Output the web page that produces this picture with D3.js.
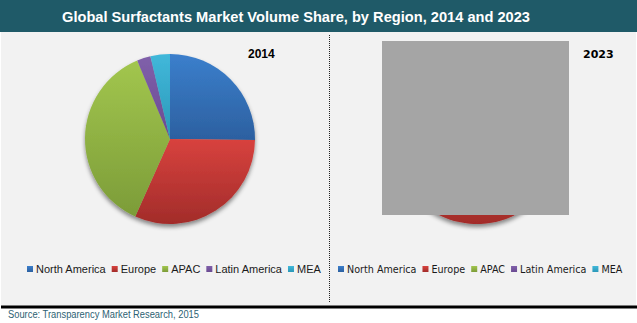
<!DOCTYPE html>
<html>
<head>
<meta charset="utf-8">
<script src="https://cdn.jsdelivr.net/npm/d3@7"></script>
<style>
  body { margin: 0; background: #fff; }
  svg { display: block; }
</style>
</head>
<body>
<div id="chart"></div>
<script>
var svgWidth = 637;
var svgHeight = 323;

// data
var regions = ['North America', 'Europe', 'APAC', 'Latin America', 'MEA'];
var share2014 = [25.2, 31.5, 37.0, 2.6, 3.7];
var share2023 = [25.0, 32.4, 36.5, 2.5, 3.6];
var years = ['2014', '2023'];
var titleText = 'Global Surfactants Market Volume Share, by Region, 2014 and 2023';
var sourceText = 'Source: Transparency Market Research, 2015';

var topColors = ['#3b7fcc', '#d8423e', '#a2c64e', '#8060aa', '#41b8da'];
var bottomColors = ['#2c60a0', '#a22c2a', '#7c9c38', '#6a4a92', '#2b98b8'];

var svg = d3.select('#chart')
            .append('svg')
            .attr('width', svgWidth)
            .attr('height', svgHeight);

var defs = svg.append('defs');

regions.forEach(function(r, i) {
    var g = defs.append('linearGradient')
                .attr('id', 'grad' + i)
                .attr('x1', 0).attr('y1', 0)
                .attr('x2', 0).attr('y2', 1);
    g.append('stop').attr('offset', '0%').attr('stop-color', topColors[i]);
    g.append('stop').attr('offset', '100%').attr('stop-color', bottomColors[i]);
});

var shadow = defs.append('filter')
                 .attr('id', 'shadow')
                 .attr('x', '-20%').attr('y', '-20%')
                 .attr('width', '140%').attr('height', '140%');
shadow.append('feDropShadow')
      .attr('dx', 0).attr('dy', 3)
      .attr('stdDeviation', 2.2)
      .attr('flood-color', '#000')
      .attr('flood-opacity', 0.45);

// panel background
svg.append('rect')
   .attr('x', 1).attr('y', 32)
   .attr('width', svgWidth - 2).attr('height', 274)
   .attr('fill', '#f2f2f2');

// title bar
svg.append('rect')
   .attr('x', 0).attr('y', 0)
   .attr('width', svgWidth).attr('height', 32)
   .attr('fill', '#1f5a68');

svg.append('text')
   .attr('x', 62)
   .attr('y', 22)
   .attr('font-family', 'Liberation Sans, Arial, sans-serif')
   .attr('font-weight', 'bold')
   .attr('font-size', '15.5px')
   .attr('textLength', 468)
   .attr('lengthAdjust', 'spacingAndGlyphs')
   .attr('fill', '#fff')
   .text(titleText);

// divider
svg.append('line')
   .attr('x1', 329.5).attr('x2', 329.5)
   .attr('y1', 35).attr('y2', 303)
   .attr('stroke', '#222')
   .attr('stroke-width', 1)
   .attr('stroke-dasharray', '1,1');

// bottom rule
svg.append('rect')
   .attr('x', 1).attr('y', 305.5)
   .attr('width', svgWidth - 1).attr('height', 3)
   .attr('fill', '#000');

svg.append('text')
   .attr('x', 8)
   .attr('y', 318)
   .attr('font-family', 'Liberation Sans, Arial, sans-serif')
   .attr('font-size', '10px')
   .attr('textLength', 191)
   .attr('lengthAdjust', 'spacingAndGlyphs')
   .attr('fill', '#2d6273')
   .text(sourceText);

var pie = d3.pie().sort(null).startAngle(0).endAngle(2 * Math.PI);
var arc = d3.arc().innerRadius(0).outerRadius(85);

var panels = [
    {values: share2014, cx: 170, cy: 139, year: years[0], yearX: 248, font: 'Liberation Sans, Arial, sans-serif',
     legendX: 27, legendSize: 11, legendEnd: 317},
    {values: share2023, cx: 477, cy: 139, year: years[1], yearX: 583, font: 'DejaVu Sans, sans-serif',
     legendX: 338, legendSize: 9.6, legendEnd: 625}
];

panels.forEach(function(p, pi) {
    var g = svg.append('g')
               .attr('transform', `translate(${p.cx}, ${p.cy})`)
               .attr('filter', 'url(#shadow)');

    g.selectAll('path')
     .data(pie(p.values))
     .enter()
     .append('path')
     .attr('d', arc)
     .attr('fill', (d, i) => `url(#grad${i})`);

    svg.append('text')
       .attr('x', p.yearX)
       .attr('y', 58)
       .attr('font-family', p.font)
       .attr('font-weight', 'bold')
       .attr('font-size', pi === 0 ? '12px' : '11px')
       .attr('fill', '#000')
       .text(p.year);

    // legend
    var x = p.legendX;
    regions.forEach(function(r, i) {
        svg.append('rect')
           .attr('x', x).attr('y', 266)
           .attr('width', 6).attr('height', 6)
           .attr('fill', `url(#grad${i})`);
        var t = svg.append('text')
                   .attr('x', x + 9)
                   .attr('y', 273)
                   .attr('font-family', p.font)
                   .attr('font-size', p.legendSize + 'px')
                   .attr('fill', '#1a1a1a')
                   .text(r);
        x += 9 + t.node().getComputedTextLength() + 6;
    });
});

// grey placeholder box over the 2023 pie
svg.append('rect')
   .attr('x', 382).attr('y', 41)
   .attr('width', 187).attr('height', 174)
   .attr('fill', '#a5a5a5');
</script>
</body>
</html>
